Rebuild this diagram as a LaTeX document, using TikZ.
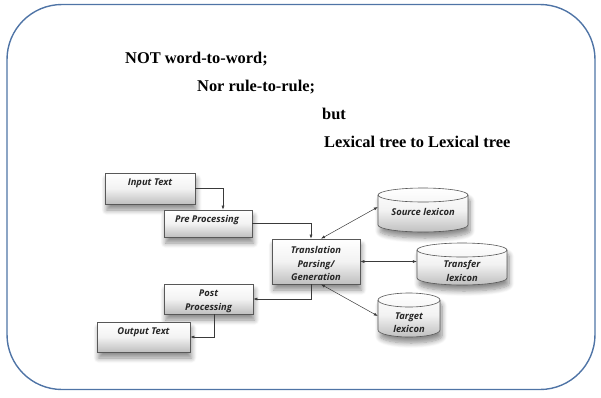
\documentclass[tikz,border=0pt]{standalone}
\usepackage{fontspec}
\setmainfont{Liberation Serif}
\newfontfamily\boxfont{Open Sans}
\usetikzlibrary{shapes.misc,shadows.blur,arrows.meta,calc}
\definecolor{framecol}{HTML}{4F74A6}
\definecolor{linecol}{HTML}{3A3A3A}
\tikzset{
  frame/.style={draw=framecol,line width=1.4pt,rounded corners=55pt},
  hdr/.style={font=\fontsize{16.4}{18}\selectfont\bfseries,anchor=base west,inner sep=0pt},
  procbox/.style={draw=linecol!85,line width=0.6pt,top color=white,bottom color=black!25,
    middle color=black!5,
    blur shadow={shadow xshift=1.5pt,shadow yshift=-6pt,shadow opacity=45,shadow blur steps=8,
      shadow blur radius=5pt},
    inner sep=0pt},
  docbox/.style={procbox,chamfered rectangle,chamfered rectangle corners=south east,
    chamfered rectangle xsep=3pt,chamfered rectangle ysep=3pt},
  lbl/.style={font=\boxfont\fontsize{9.4}{13.6}\selectfont\bfseries\itshape,align=center,
    text=black!85,inner sep=0pt},
  conn/.style={draw=linecol,line width=0.5pt,-{Latex[length=4pt,width=3pt]}},
  bconn/.style={draw=linecol,line width=0.5pt,{Latex[length=4pt,width=3pt]}-{Latex[length=4pt,width=3pt]}},
  cylfill/.style={draw=linecol!85,line width=0.6pt,top color=white,bottom color=black!25,
    middle color=black!5,
    blur shadow={shadow xshift=2pt,shadow yshift=-6pt,shadow opacity=45,shadow blur steps=8,
      shadow blur radius=5pt}},
}
% name, left x, top y, width, height
\newcommand\drawcyl[5]{%
  \pgfmathsetmacro\cxl{#2}\pgfmathsetmacro\cyt{#3}%
  \pgfmathsetmacro\cxr{#2+#4}\pgfmathsetmacro\cyb{#3+#5}%
  \pgfmathsetmacro\crx{#4/2}%
  \node[minimum width=#4pt,minimum height=#5pt,inner sep=0pt] (#1) at ({#2+#4/2},{#3+#5/2}) {};
  \path[cylfill] (\cxl,\cyt+7) -- (\cxl,\cyb-7)
     arc[start angle=180,end angle=0,x radius=\crx,y radius=7]
     -- (\cxr,\cyt+7) arc[start angle=0,end angle=-180,x radius=\crx,y radius=7] -- cycle;
  \draw[draw=linecol!85,line width=0.6pt] (\cxl,\cyt+7)
     arc[start angle=180,end angle=0,x radius=\crx,y radius=7];
}
\begin{document}
\begin{tikzpicture}[x=1pt,y=-1pt]
\useasboundingbox (0,0) rectangle (601,397);
\draw[frame] (7,4.5) rectangle (595,389.5);

\node[hdr] (h1) at (125,63.3) {NOT word-to-word;};
\node[hdr] (h2) at (197,91) {Nor rule-to-rule;};
\node[hdr] (h3) at (322,119.3) {but};
\node[hdr] (h4) at (324,147.7) {Lexical tree to Lexical tree};

% process boxes
\node[docbox,minimum width=90pt,minimum height=31pt] (inp) at (150,188.5) {};
\node[lbl] (inpT) at (150,183) {Input Text};
\node[procbox,minimum width=88pt,minimum height=27pt] (pre) at (208,223.5) {};
\node[lbl] (preT) at (207,220) {Pre Processing};
\node[procbox,minimum width=88pt,minimum height=45pt] (trans) at (316,261.5) {};
\node[lbl] (transT) at (316,263.5) {Translation\\Parsing/\\Generation};
\node[procbox,minimum width=89pt,minimum height=30pt] (post) at (208.5,299) {};
\node[lbl] (postT) at (208.5,301) {Post\\Processing};
\node[docbox,minimum width=93pt,minimum height=30pt] (out) at (143.5,337) {};
\node[lbl] (outT) at (143.5,332) {Output Text};

% lexicons
\drawcyl{src}{378}{188}{90}{44}
\node[lbl] (srcT) at (423,212) {Source lexicon};
\drawcyl{tfr}{417}{243}{90}{42}
\node[lbl] (tfrT) at (462,271) {Transfer\\lexicon};
\drawcyl{tgt}{378}{293}{62}{44}
\node[lbl] (tgtT) at (409,322.5) {Target\\lexicon};

% connectors
\draw[conn] (inp.east) -| ([xshift=15pt]pre.north);
\draw[conn] (pre.east) -| ([xshift=-5pt]trans.north);
\draw[conn] ([xshift=-5pt]trans.south) |- (post.east);
\draw[conn] ([xshift=5.5pt]post.south) |- (out.east);
\draw[bconn] ([xshift=5pt]trans.north) -- ([yshift=3pt]src.west);
\draw[bconn] (trans.east) -- (tfr.west |- trans.east);
\draw[bconn] ([xshift=5pt]trans.south) -- ([yshift=-1pt]tgt.west);
\end{tikzpicture}
\end{document}
